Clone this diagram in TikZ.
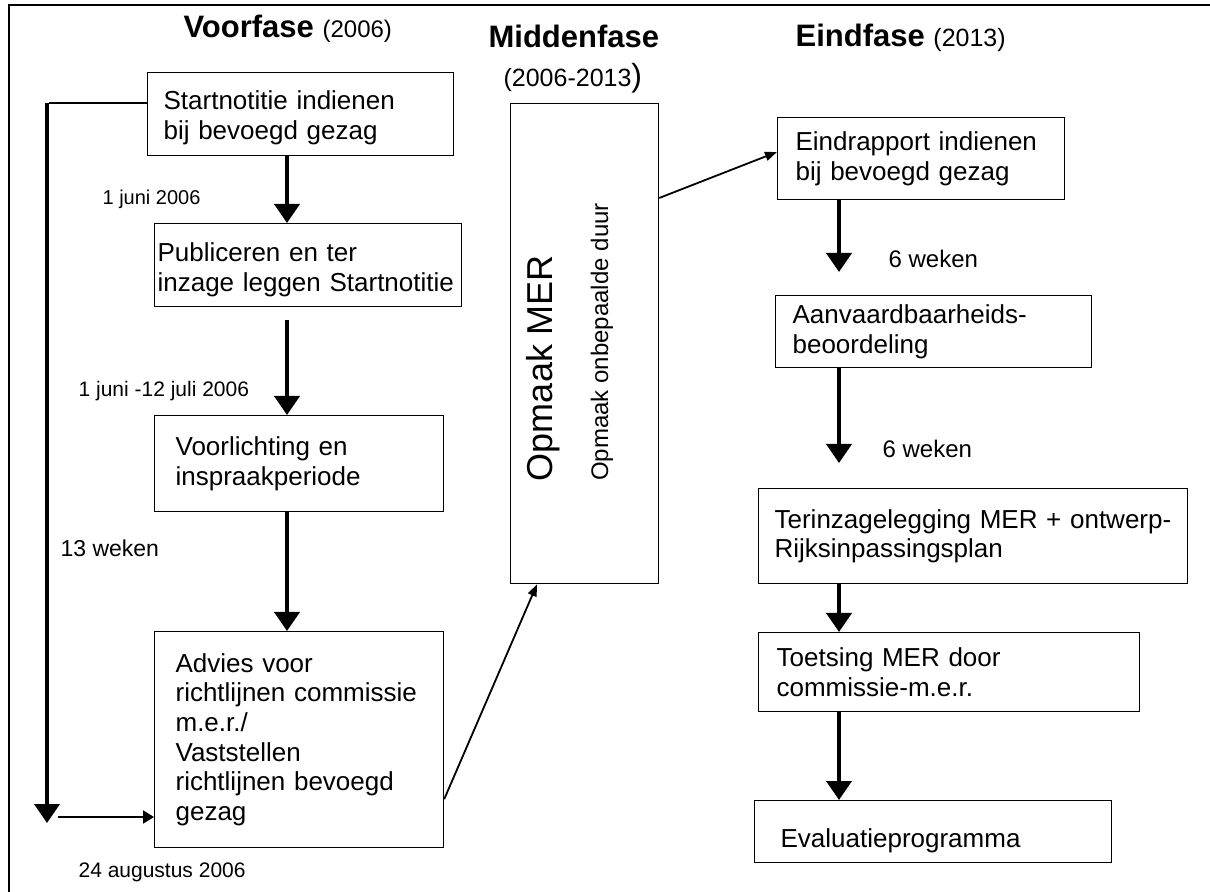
\documentclass[tikz,border=0pt]{standalone}
\usepackage{fontspec}
\setmainfont{Liberation Sans}
\usepackage{tikz}
\usetikzlibrary{arrows.meta,positioning,calc}

\begin{document}
\begin{tikzpicture}[x=0.5pt, y=-0.5pt, semithick]
    \tikzstyle{stap}=[draw=black, line width=0.6pt, anchor=north west, align=left, inner ysep=0pt, font=\fontsize{13}{14.8}\selectfont]
    \tikzstyle{kop}=[anchor=base west, inner sep=0pt, font=\fontsize{15.5}{18}\selectfont\bfseries]
    \tikzstyle{jaar}=[anchor=base west, inner sep=0pt, font=\fontsize{12.5}{15}\selectfont]
    \tikzstyle{datum}=[anchor=base west, inner sep=0pt, font=\fontsize{10.5}{12}\selectfont]
    \tikzstyle{dik}=[line width=2pt, -{Triangle[width=12.5pt,length=9.5pt]}]
    \tikzstyle{middel}=[line width=1pt, -{Triangle[width=6.5pt,length=5.5pt]}]
    \tikzstyle{dun}=[line width=0.9pt, -{Triangle[width=4.5pt,length=6pt]}]
    \useasboundingbox (0,0) rectangle (1210,892);
    \draw[line width=0.8pt] (9,892) -- (9,5) -- (1210,5);

    % koppen
    \node[kop]  (vkop)  at (183,38)  {Voorfase \fontsize{12}{14}\selectfont\mdseries(2006)};
    \node[kop]  (mkop)  at (488,48)  {Middenfase};
    \node[jaar] (mjaar) at (503,87)  {(2006-2013{\fontsize{16}{18}\selectfont)}};
    \node[kop]  (ekop)  at (795,47)  {Eindfase \fontsize{12.5}{14}\selectfont\mdseries(2013)};

    % voorfase
    \node[stap, inner xsep=8pt, text width=137pt, minimum height=41.5pt, text height=13pt]    (start)  at (147,72)  {Startnotitie indienen\\bij bevoegd gezag};
    \node[stap, inner xsep=1.5pt, text width=150.5pt, minimum height=41.5pt, text depth=12.7pt] (publ)   at (154,223) {Publiceren en ter\\inzage leggen Startnotitie};
    \node[stap, inner xsep=10.5pt, text width=123.5pt, minimum height=48pt]  (voorl)  at (154,415) {Voorlichting en\\inspraakperiode};
    \node[stap, inner xsep=10.5pt, text width=123.5pt, minimum height=108pt] (advies) at (154,631) {Advies voor\\richtlijnen commissie\\m.e.r./\\Vaststellen\\richtlijnen bevoegd\\gezag};

    % middenfase
    \node[stap, inner sep=0pt, minimum width=74pt, minimum height=240pt] (mer) at (510,103) {};
    \node[rotate=90, font=\fontsize{18}{20}\selectfont] (mertitel) at (543,368) {Opmaak MER};
    \node[rotate=90, font=\fontsize{12}{14}\selectfont] (merduur)  at (602,342) {Opmaak onbepaalde duur};

    % eindfase
    \node[stap, inner xsep=9pt, text width=125.5pt, minimum height=41pt]    (eind)   at (777,117) {Eindrapport indienen\\bij bevoegd gezag};
    \node[stap, inner xsep=8.5pt, text width=141pt, minimum height=36pt]    (aanv)   at (775,295) {Aanvaardbaarheids-\\beoordeling};
    \node[stap, inner xsep=8pt, text width=198.5pt, minimum height=47.5pt]  (terinz) at (758,488) {Terinzagelegging MER + ontwerp-\\Rijksinpassingsplan};
    \node[stap, inner xsep=9pt, text width=172.5pt, minimum height=39.5pt]  (toets)  at (758,632) {Toetsing MER door\\commissie-m.e.r.};
    \node[stap, inner xsep=13pt, text width=152.5pt, minimum height=31pt, text height=18.5pt] (eval) at (754,800) {Evaluatieprogramma};

    % termijnen
    \node[datum, font=\fontsize{10}{12}\selectfont] (d1) at (102,205) {1 juni 2006};
    \node[datum] (d2) at (78,397)  {1 juni -12 juli 2006};
    \node[datum, font=\fontsize{11.5}{13}\selectfont] (d3) at (60,557)  {13 weken};
    \node[datum] (d4) at (78,877)  {24 augustus 2006};
    \node[datum, font=\fontsize{12}{14}\selectfont] (w1) at (888,268) {6 weken};
    \node[datum, font=\fontsize{12}{14}\selectfont] (w2) at (882,458) {6 weken};

    \coordinate (kolA) at (287,0);
    \coordinate (kolB) at (839,0);
    \coordinate (hoek) at (47,103);
    \coordinate (voet) at (47,823);
    \coordinate (pijl) at (58,817);

    % pijlen
    \draw[dik] (start.south -| kolA) -- (publ.north -| kolA);
    \draw[dik] ($(publ.south -| kolA)+(0,13)$) -- (voorl.north -| kolA);
    \draw[dik] (voorl.south -| kolA) -- (advies.north -| kolA);
    \draw[line width=0.6pt] (start.west |- hoek) -- ($(hoek)+(2,0)$);
    \draw[dik] (hoek) -- (voet);
    \draw[middel] (pijl) -- (advies.west |- pijl);
    \draw[dun] ($(advies.south east)+(0,-49)$) -- ($(mer.south west)+(27,0)$);
    \draw[dun] ($(mer.north east)+(0,95)$) -- ($(eind.north west)+(0,35)$);

    \draw[dik] (eind.south -| kolB) -- ($(aanv.north -| kolB)+(0,-23)$);
    \draw[dik] (aanv.south -| kolB) -- ($(terinz.north -| kolB)+(0,-25)$);
    \draw[dik] (terinz.south -| kolB) -- (toets.north -| kolB);
    \draw[dik] (toets.south -| kolB) -- (eval.north -| kolB);
\end{tikzpicture}
\end{document}
